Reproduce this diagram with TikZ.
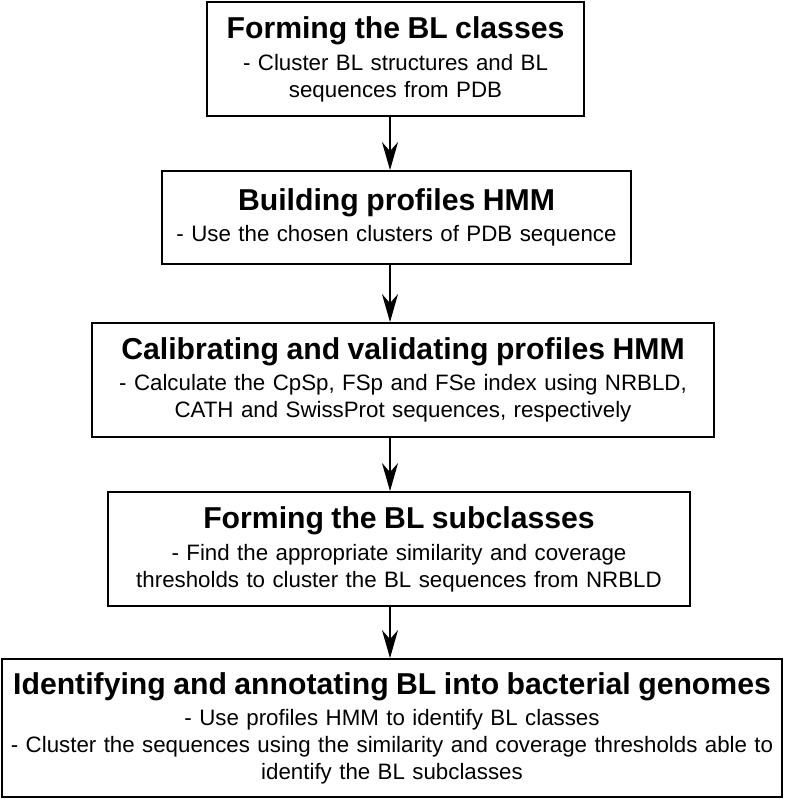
\documentclass[tikz,border=0pt]{standalone}
\usepackage{fontspec}
\setmainfont{Liberation Sans}
\usetikzlibrary{arrows.meta}
\newcommand\tfont{\bfseries\fontsize{30.2}{36}\selectfont}
\newcommand\dfont{\fontsize{22.3}{27}\selectfont}
\begin{document}
\begin{tikzpicture}[x=1pt,y=-1pt,
  stepbox/.style={draw, line width=1.8pt, inner sep=0pt, align=center, font=\dfont},
  flow/.style={-{Stealth[length=28pt,width=16pt,inset=9pt]}, line width=1.6pt}]
\useasboundingbox (0,0) rectangle (786,799);
\node[stepbox, minimum width=377pt, minimum height=114pt, text width=372pt] (b1) at (395.5,59)
  {{\tfont Forming the BL classes}\\[5pt] - Cluster BL structures and BL\\ sequences from PDB};
\node[stepbox, minimum width=469pt, minimum height=93pt, text width=464pt] (b2) at (396.5,217.5)
  {{\tfont Building profiles HMM}\\[4pt] - Use the chosen clusters of PDB sequence};
\node[stepbox, minimum width=622pt, minimum height=114pt, text width=616pt] (b3) at (403,380)
  {{\tfont Calibrating and validating profiles HMM}\\[4pt] - Calculate the CpSp, FSp and FSe index using NRBLD,\\ CATH and SwissProt sequences, respectively};
\node[stepbox, minimum width=582pt, minimum height=114pt, text width=578pt] (b4) at (399,549)
  {{\tfont Forming the BL subclasses}\\[5pt] - Find the appropriate similarity and coverage\\ thresholds to cluster the BL sequences from NRBLD};
\node[stepbox, minimum width=780pt, minimum height=138pt, text width=776pt] (b5) at (392,728)
  {{\tfont Identifying and annotating BL into bacterial genomes}\\[4pt] - Use profiles HMM to identify BL classes\\ - Cluster the sequences using the similarity and coverage thresholds able to\\ identify the BL subclasses};
\coordinate (ax) at (390,0);
\draw[flow] (b1.south -| ax) -- (b2.north -| ax);
\draw[flow] (b2.south -| ax) -- (b3.north -| ax);
\draw[flow] (b3.south -| ax) -- (b4.north -| ax);
\draw[flow] (b4.south -| ax) -- (b5.north -| ax);
\end{tikzpicture}
\end{document}
